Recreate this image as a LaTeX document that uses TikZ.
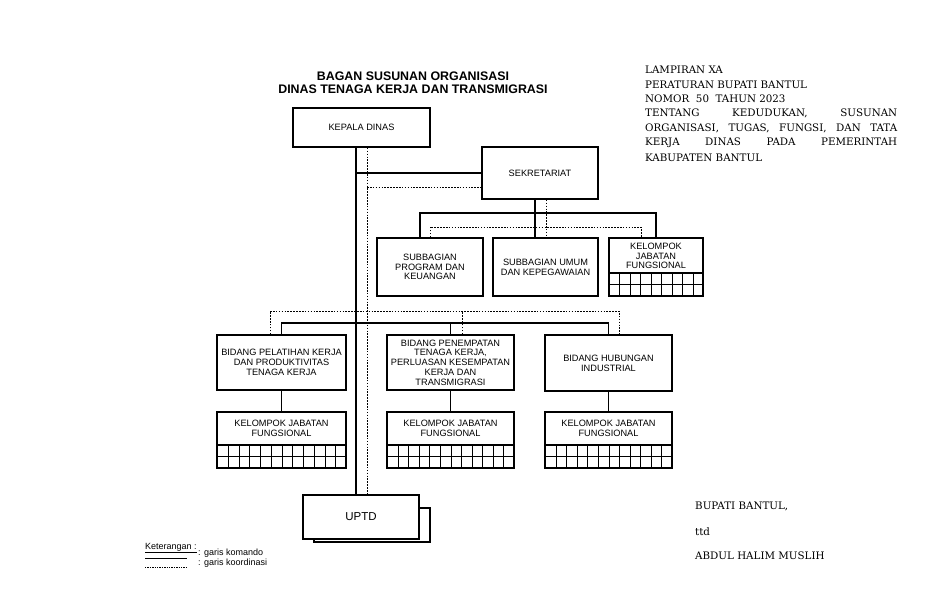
\documentclass[tikz,border=0pt]{standalone}
\usepackage{fontspec}
\setmainfont{Liberation Sans}
\newfontfamily\docserif{DejaVu Serif}
\newcommand\kgrid[6]{% x1, x2, ysplit, ymid, ybottom, lastindex(ncols-1)
  \draw[gridl] (#1,#3) -- (#2,#3) (#1,#4) -- (#2,#4);
  \foreach \i in {1,...,#6} {\draw[gridl] ({round(#1+\i*(#2-#1)/(#6+1))+0.5},#3) -- ({round(#1+\i*(#2-#1)/(#6+1))+0.5},#5);}
}
\begin{document}
\begin{tikzpicture}[x=1pt,y=-1pt,
  box/.style={draw, line width=1.7pt, fill=white, inner sep=1pt, align=center,
    font=\fontsize{9.2}{9.8}\selectfont},
  btxt/.style={inner sep=0pt, align=center, font=\fontsize{9.2}{9.8}\selectfont},
  cmd/.style={line width=1.7pt},
  crd/.style={line width=0.9pt, dash pattern=on 1.6pt off 1.3pt},
  gridl/.style={line width=1.3pt},
  doc/.style={anchor=west, inner sep=0pt, font=\docserif\fontsize{10.3}{12}\selectfont},
  leg/.style={anchor=west, inner sep=0pt, font=\fontsize{9}{10}\selectfont}]
\useasboundingbox (0,0) rectangle (936,612);
\fill[white] (0,0) rectangle (936,612);

% title
\node[inner sep=0pt, font=\bfseries\fontsize{12.4}{13}\selectfont] (t1) at (413,76) {BAGAN SUSUNAN ORGANISASI};
\node[inner sep=0pt, font=\bfseries\fontsize{12.4}{13}\selectfont] (t2) at (413,89) {DINAS TENAGA KERJA DAN TRANSMIGRASI};

% right header
\node[doc] (r1) at (645,70) {LAMPIRAN XA};
\node[doc] (r2) at (645,85) {PERATURAN BUPATI BANTUL};
\node[doc] (r3) at (645,99) {NOMOR\ \ 50\ \ TAHUN 2023};
\node[doc] (r4) at (645,113) {\hbox to 252pt{TENTANG\hfill KEDUDUKAN,\hfill SUSUNAN}};
\node[doc] (r5) at (645,128) {\hbox to 252pt{ORGANISASI,\hfill TUGAS,\hfill FUNGSI,\hfill DAN\hfill TATA}};
\node[doc] (r6) at (645,143) {\hbox to 252pt{KERJA\hfill DINAS\hfill PADA\hfill PEMERINTAH}};
\node[doc] (r7) at (645,158) {KABUPATEN BANTUL};

% signature
\node[doc] (s1) at (695,506) {BUPATI BANTUL,};
\node[doc] (s2) at (695,532) {ttd};
\node[doc] (s3) at (695,556) {ABDUL HALIM MUSLIH};

% coordinates for connector routing
\coordinate (mx) at (356,0);
\coordinate (dx) at (367,0);
\coordinate (sx) at (535,0);
\coordinate (sdx) at (546,0);
\coordinate (c420) at (420,0);
\coordinate (c641) at (641,0);
\coordinate (c270) at (270,0);
\coordinate (c462) at (462,0);
\coordinate (c619) at (619,0);
\coordinate (y187) at (0,187);
\coordinate (h1) at (0,213);
\coordinate (h2) at (0,227);
\coordinate (h3) at (0,323);
\coordinate (h4) at (0,311);
\coordinate (ybot) at (0,495);

% boxes
\path
  (361.5,127.5) node[box, minimum width=137pt, minimum height=39pt] (kd) {KEPALA DINAS}
  (540,173) node[box, minimum width=116pt, minimum height=52pt] (sek) {SEKRETARIAT}
  (430,267) node[box, minimum width=106pt, minimum height=58pt] (sp) {SUBBAGIAN\\PROGRAM DAN\\KEUANGAN}
  (545.5,267) node[box, minimum width=105pt, minimum height=58pt] (su) {SUBBAGIAN UMUM\\DAN KEPEGAWAIAN}
  (656,267) node[box, minimum width=94pt, minimum height=58pt] (kj0) {}
  (281.5,362.5) node[box, minimum width=129pt, minimum height=55pt] (b1) {BIDANG PELATIHAN KERJA\\DAN PRODUKTIVITAS\\TENAGA KERJA}
  (450.5,362.5) node[box, minimum width=127pt, minimum height=55pt] (b2) {BIDANG PENEMPATAN\\TENAGA KERJA,\\PERLUASAN KESEMPATAN\\KERJA DAN\\TRANSMIGRASI}
  (608.5,363) node[box, minimum width=127pt, minimum height=56pt] (b3) {BIDANG HUBUNGAN\\INDUSTRIAL}
  (281.5,440) node[box, minimum width=129pt, minimum height=56pt] (k1) {}
  (450.5,440) node[box, minimum width=127pt, minimum height=56pt] (k2) {}
  (608.5,440) node[box, minimum width=127pt, minimum height=56pt] (k3) {};

% command lines (solid)
\draw[cmd] (kd.south -| mx) -- (mx |- ybot);
\draw[cmd] (sek.west) -- (sek.west -| mx);
\draw[cmd] (sek.south -| sx) -- (su.north -| sx);
\draw[cmd] (sp.north -| c420) -- (c420 |- h1) -- (kj0.north |- h1) -- (kj0.north);
\draw[cmd] (b1.north) -- (b1.north |- h3) -- (b3.north |- h3) -- (b3.north);
\draw[cmd] (b2.north) -- (b2.north |- h3);
\draw[cmd] (b1.south) -- (k1.north);
\draw[cmd] (b2.south) -- (k2.north);
\draw[cmd] (b3.south) -- (k3.north);

% coordination lines (dotted)
\draw[crd] (kd.south -| dx) -- (dx |- ybot);
\draw[crd] (dx |- y187) -- (sek.west |- y187);
\draw[crd] (sek.south -| sdx) -- (su.north -| sdx);
\draw[crd] (sp.north) -- (sp.north |- h2) -- (c641 |- h2) -- (kj0.north -| c641);
\draw[crd] (b1.north -| c270) -- (c270 |- h4) -- (c619 |- h4) -- (b3.north -| c619);
\draw[crd] (b2.north -| c462) -- (c462 |- h4);

% kelompok jabatan fungsional texts and grids
\node[btxt] (kj0t) at (656,256) {KELOMPOK\\JABATAN\\FUNGSIONAL};
\kgrid{609}{703}{273}{284.5}{296}{8}
\node[btxt] (k1t) at (281.5,428) {KELOMPOK JABATAN\\FUNGSIONAL};
\kgrid{217}{346}{445}{456.5}{468}{11}
\node[btxt] (k2t) at (450.5,428) {KELOMPOK JABATAN\\FUNGSIONAL};
\kgrid{387}{514}{445}{456.5}{468}{11}
\node[btxt] (k3t) at (608.5,428) {KELOMPOK JABATAN\\FUNGSIONAL};
\kgrid{545}{672}{445}{456.5}{468}{11}

% UPTD with shadow box
\draw[line width=1.7pt, fill=white] (314,508) rectangle (430,542);
\node[box, minimum width=116pt, minimum height=44pt, font=\fontsize{11.5}{13}\selectfont] (uptd) at (361,517) {UPTD};

% legend
\node[leg] (ket) at (145,548) {\underline{Keterangan :}};
\node[leg] (lg1) at (198,553) {: garis komando};
\node[leg] (lg2) at (198,563) {: garis koordinasi};
\coordinate (la1) at (145,558);
\coordinate (lb1) at (187,558);
\coordinate (la2) at (145,567);
\coordinate (lb2) at (188,567);
\draw[line width=1pt] (la1) -- (lb1);
\draw[line width=0.6pt, dash pattern=on 1.4pt off 1pt] (la2) -- (lb2);
\end{tikzpicture}
\end{document}
